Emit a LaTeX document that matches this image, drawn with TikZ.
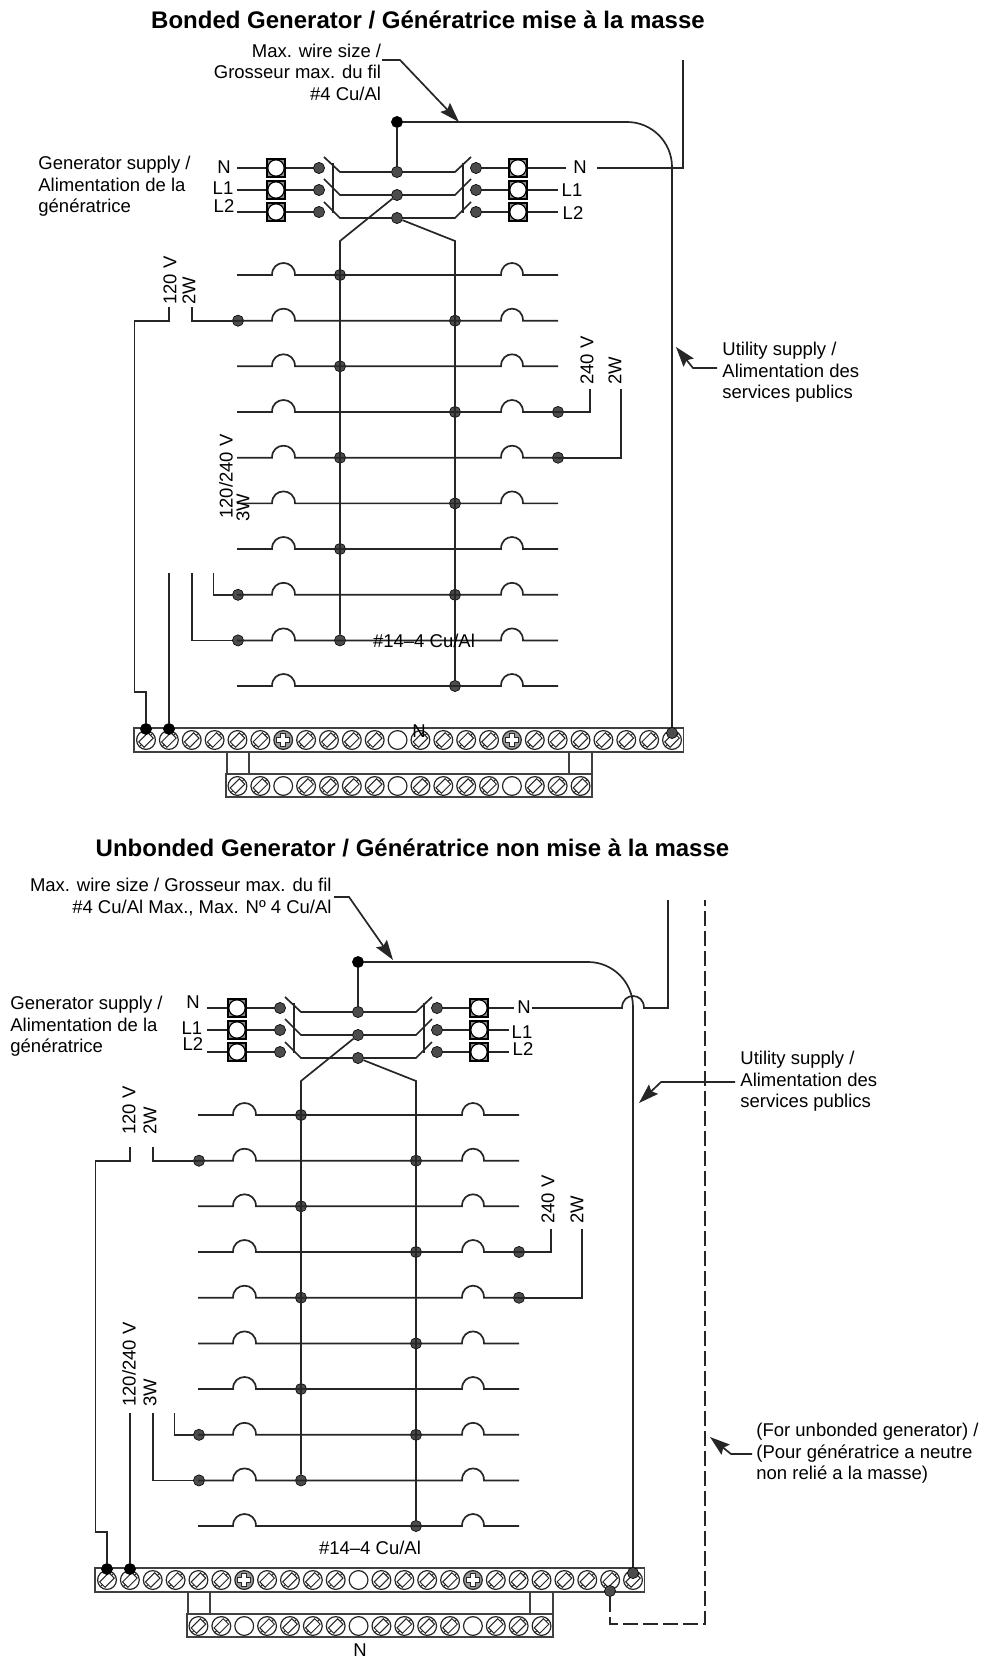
\documentclass[tikz,border=0pt]{standalone}
\usepackage{fontspec}
\setmainfont{Liberation Sans}
\usepackage{tikz}
\usetikzlibrary{arrows.meta,positioning}
\tikzset{every node/.append style={font=\fontsize{9.25}{10.75}\selectfont}}
\tikzset{wire/.style={line width=.85pt,black!85}}
\tikzset{barline/.style={line width=.85pt,black!75}}
\tikzset{pointer/.style={line width=.85pt,black!85,-{Stealth[length=10pt,width=6.5pt,inset=1.5pt]}}}
\tikzset{dot/.style={circle,draw=black,fill=black!70,line width=.3pt,minimum size=5.6pt,inner sep=0pt}}
\tikzset{blackdot/.style={dot,fill=black}}
\tikzset{termbox/.style={draw=black,line width=.7pt,fill=black!45,minimum size=9pt,inner sep=0pt,
  path picture={\draw[fill=white,line width=.6pt] (path picture bounding box.center) circle (4.1pt);}}}
\tikzset{blankscrew/.style={circle,draw=black!85,fill=white,line width=.6pt,minimum size=9.4pt,inner sep=0pt}}
\tikzset{screw/.style={blankscrew,
  path picture={\begin{scope}[shift={(path picture bounding box.center)},line width=.5pt]
    \draw (7.3,-1.9) -- (1.9,-7.3) -- (-7.3,1.9) -- (-1.9,7.3) -- cycle;
    \draw (4.6,-4.6) -- (7.4,-7.4) (-4.6,4.6) -- (-7.4,7.4);
  \end{scope}}}}
\tikzset{plusscrew/.style={blankscrew,fill=black!40,
  path picture={\begin{scope}[shift={(path picture bounding box.center)},line width=.5pt]
    \draw[fill=white] (-2.3,-6.5)--(2.3,-6.5)--(2.3,-2.3)--(6.5,-2.3)--(6.5,2.3)--(2.3,2.3)--(2.3,6.5)--(-2.3,6.5)--(-2.3,2.3)--(-6.5,2.3)--(-6.5,-2.3)--(-2.3,-2.3)--cycle;
  \end{scope}}}}
\tikzset{upright/.style={rotate=90,anchor=west,inner sep=0pt}}
\tikzset{caption/.style={inner sep=0pt,align=left,anchor=west}}
\tikzset{heading/.style={inner sep=0pt,font=\fontsize{12}{14}\selectfont\bfseries}}

% everything the two panels have in common, at the coordinates of the upper one
% #1 = left end of the supply stubs, #2 = right end of the L1, L2 stubs
\newcommand{\transferpanel}[2]{%
  \node[draw,barline,minimum width=274.8pt,minimum height=12pt,inner sep=0pt] (topbar) at (408.8,740) {};
  \node[draw,barline,minimum width=183pt,minimum height=11.5pt,inner sep=0pt] (lowbar) at (409,785.5) {};
  \foreach \x in {227,249,569,592}{
    \draw[barline] (\x,752) -- (\x,774);
  };
  \foreach \i in {1,...,6,8,9,10,11,13,14,15,16,18,19,...,24}{
    \node[screw] (s\i) at ({146+22.87*(\i-1)},740) {};
  };
  \foreach \i in {7,17}{
    \node[plusscrew] (s\i) at ({146+22.87*(\i-1)},740) {};
  };
  \node[blankscrew] (s12) at ({146+22.87*11},740) {};
  \foreach \i in {5,6,8,9,10,11,13,14,15,16,18,19,20}{
    \node[screw] (t\i) at ({146+22.87*(\i-1)},786) {};
  };
  \foreach \i in {7,12,17}{
    \node[blankscrew] (t\i) at ({146+22.87*(\i-1)},786) {};
  };
  % switch
  \node[blackdot] (ndot) at (397,122) {};
  \node[dot] (cN) at (397,172) {};
  \node[dot] (c1) at (397,195) {};
  \node[dot] (c2) at (397,218) {};
  \foreach \t/\y/\m in {N/157/172,1/179/195,2/202/218}{
    \draw[wire] (324,\y) -- (340,\m) -- (c\t);
    \draw[wire] (c\t) -- (455,\m) -- (471,\y);
  };
  \foreach \x in {333,463}{
    \draw[wire] (\x,163) -- (\x,213);
  };
  \foreach \t/\y in {N/168,1/190,2/212}{
    \coordinate (lt\t) at (#1,\y);
    \node[termbox] (lb\t) at (276,\y) {};
    \node[dot] (ld\t) at (319,\y) {};
    \node[dot] (rd\t) at (476,\y) {};
    \node[termbox] (rb\t) at (518,\y) {};
    \draw[wire] (lt\t) -- (lb\t);
    \draw[wire] (lb\t) -- (ld\t);
    \draw[wire] (rd\t) -- (rb\t);
  };
  \coordinate (rt1) at (#2,190);
  \coordinate (rt2) at (#2,212);
  \draw[wire] (rb1) -- (rt1);
  \draw[wire] (rb2) -- (rt2);
  \node[dot] (smR) at (672,733) {};
  \draw[wire] (ndot) -- (cN);
  \draw[wire,rounded corners=22.5pt] (ndot) -| (smR);
  % feeder dots on the rows
  \foreach \n/\y in {1/275,3/366.3,5/457.7,7/549,9/640.4}{
    \node[dot] (bl\n) at (340,\y) {};
  };
  \foreach \n/\y in {2/320.7,4/412,6/503.4,8/594.8,10/686}{
    \node[dot] (br\n) at (455,\y) {};
  };
  \foreach \n/\y in {2/320.7,8/594.8,9/640.4}{
    \node[dot] (el\n) at (238,\y) {};
  };
  \foreach \n/\y in {4/412,5/457.7}{
    \node[dot] (er\n) at (558,\y) {};
  };
  % rows of breakers
  \foreach \n/\y in {1/275,2/320.7,3/366.3,4/412,5/457.7,6/503.4,7/549,8/594.8,9/640.4,10/686}{
    \coordinate (rl\n) at (237,\y);
    \coordinate (rr\n) at (558,\y);
    \draw[wire] (rl\n) -- (272,\y) .. controls (272,\y-16) and (295,\y-16) .. (295,\y) -- (501,\y) .. controls (501,\y-16) and (523,\y-16) .. (523,\y) -- (rr\n);
  };
  \coordinate (bendl) at (340,241);
  \coordinate (bendr) at (455,241);
  \draw[wire] (c1) -- (bendl) -- (bl9);
  \draw[wire] (c2) -- (bendr) -- (br10);
  % branch wires
  \node[blackdot] (smA) at (146,729) {};
  \node[blackdot] (smB) at (169,729) {};
  \coordinate (top120) at (169,307);
  \coordinate (top2w) at (192,307);
  \coordinate (top240) at (590,389);
  \coordinate (top2wb) at (621,389);
  \coordinate (topa) at (169,573);
  \coordinate (topb) at (192,573);
  \coordinate (topc) at (213.5,573);
  \draw[wire] (smA) -- ++(0,-37) -- ++(-11.5,0) |- (top120 |- rl2) -- (top120);
  \draw[wire] (smB) -- (topa);
  \draw[wire] (top2w) |- (rl2);
  \draw[wire] (topc) |- (el8);
  \draw[wire] (topb) |- (el9);
  \draw[wire] (rr4) -| (top240);
  \draw[wire] (rr5) -| (top2wb);
}

\begin{document}
\begin{tikzpicture}[x=.5pt,y=-.5pt]
\useasboundingbox (0,0) rectangle (984,1657);

\begin{scope}[name prefix=bd-]
  \transferpanel{237}{558}
\end{scope}
\begin{scope}[shift={(-39,840)},name prefix=ub-]
  \transferpanel{246}{548}
\end{scope}

% upper panel
\node[heading] (titlea) at (428,20) {Bonded Generator / Génératrice mise à la masse};
\node[caption,align=right,anchor=east] (maxa) at (381.5,72) {Max. wire size /\\Grosseur max. du fil\\\#4 Cu/Al};
\coordinate (maxae) at (382,60);
\coordinate (maxat) at (459,122);
\draw[pointer] (maxae) -- (400,60) -- (maxat);
\node[caption] (gena) at (38,186.5) {Generator supply /\\Alimentation de la\\génératrice};
\node[inner sep=0pt] (lna) at (224,167) {N};
\node[inner sep=0pt] (l1a) at (223,188) {L1};
\node[inner sep=0pt] (l2a) at (224,206) {L2};
\node[inner sep=0pt] (rna) at (580,167) {N};
\node[inner sep=0pt] (r1a) at (572,190) {L1};
\node[inner sep=0pt] (r2a) at (573,213) {L2};
\coordinate (nea) at (566,168);
\coordinate (nfa) at (597,168);
\coordinate (nga) at (683,60);
\draw[wire] (bd-rbN) -- (nea);
\draw[wire] (nfa) -| (nga);
\node[upright] (v120a) at (170,305) {120 V};
\node[upright] (w2a) at (189,305) {2W};
\node[upright] (v240a) at (587,385) {240 V};
\node[upright] (w2b) at (615,385) {2W};
\node[upright] (v3a) at (226,519) {120/240 V};
\node[upright] (w3a) at (243,522) {3W};
\node[inner sep=0pt] (gaugea) at (424,641) {\#14--4 Cu/Al};
\node[inner sep=0pt] (nbara) at (419,731) {N};
\node[caption] (utila) at (722,372.5) {Utility supply /\\Alimentation des\\services publics};
\coordinate (utilae) at (717,368);
\coordinate (utilat) at (676,347);
\draw[pointer] (utilae) -- (693,368) -- (utilat);

% lower panel
\node[heading] (titleb) at (412.5,848) {Unbonded Generator / Génératrice non mise à la masse};
\node[caption,align=right,anchor=east] (maxb) at (332,897) {Max. wire size / Grosseur max. du fil\\\#4 Cu/Al Max., Max. Nº 4 Cu/Al};
\coordinate (maxbe) at (334,897);
\coordinate (maxbt) at (393,960);
\draw[pointer] (maxbe) -- (349,897) -- (maxbt);
\node[caption] (genb) at (10,1026.5) {Generator supply /\\Alimentation de la\\génératrice};
\node[inner sep=0pt] (lnb) at (193,1002) {N};
\node[inner sep=0pt] (l1b) at (192,1028) {L1};
\node[inner sep=0pt] (l2b) at (193,1044) {L2};
\node[inner sep=0pt] (rnb) at (524,1007) {N};
\node[inner sep=0pt] (r1b) at (522,1032) {L1};
\node[inner sep=0pt] (r2b) at (523,1049) {L2};
\coordinate (neb) at (514,1008);
\coordinate (nfb) at (532,1008);
\coordinate (ngb) at (668,900);
\draw[wire] (ub-rbN) -- (neb);
\draw[wire] (nfb) -- (622,1008) .. controls (622,992) and (644,992) .. (644,1008) -| (ngb);
\node[upright] (v120b) at (129,1135) {120 V};
\node[upright] (w2c) at (150,1135) {2W};
\node[upright] (v240b) at (548,1224) {240 V};
\node[upright] (w2d) at (577,1224) {2W};
\node[upright] (v3b) at (129,1407) {120/240 V};
\node[upright] (w3b) at (150,1407) {3W};
\node[inner sep=0pt] (gaugeb) at (370,1548) {\#14--4 Cu/Al};
\node[inner sep=0pt] (nbarb) at (360,1650) {N};
\node[caption] (utilb) at (740,1081.5) {Utility supply /\\Alimentation des\\services publics};
\coordinate (utilbe) at (735,1082);
\coordinate (utilbt) at (639,1103);
\draw[pointer] (utilbe) -- (661,1082) -- (utilbt);
\node[caption] (unb) at (756,1453.5) {(For unbonded generator) /\\(Pour génératrice a neutre\\non relié a la masse)};
\coordinate (unbe) at (752,1454);
\coordinate (unbt) at (710,1437);
\draw[pointer] (unbe) -- (731,1454) -- (unbt);
\node[dot] (gnd) at (610,1591) {};
\coordinate (dasha) at (705,900);
\draw[wire,dash pattern=on 7.5pt off 2.5pt] (gnd) |- (705,1624) -- (dasha);
\end{tikzpicture}
\end{document}
